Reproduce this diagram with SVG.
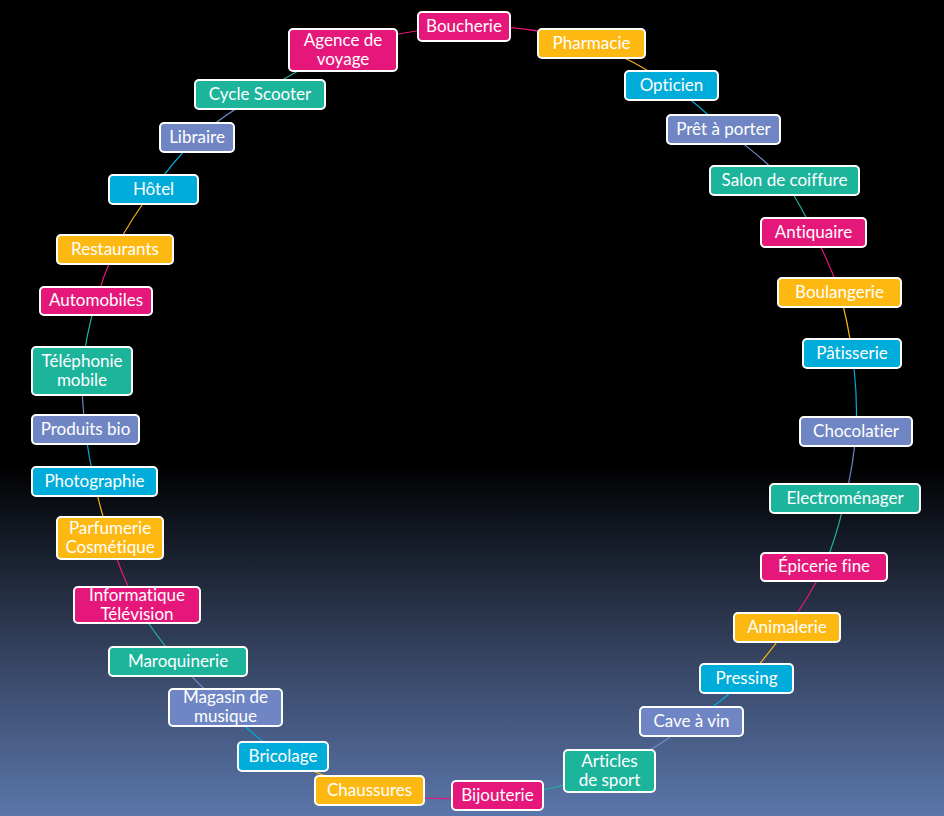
<svg xmlns="http://www.w3.org/2000/svg" width="944" height="816" viewBox="0 0 944 816">
<defs>
<linearGradient id="bg" x1="0" y1="0" x2="0" y2="816" gradientUnits="userSpaceOnUse">
<stop offset="0" stop-color="#000000"/>
<stop offset="0.57" stop-color="#000000"/>
<stop offset="0.8" stop-color="#34425f"/>
<stop offset="1" stop-color="#5b76aa"/>
</linearGradient>
<style>
.n rect{stroke:#ffffff;stroke-width:2;}
.M rect{fill:#e6177a;}
.O rect{fill:#fdb812;}
.C rect{fill:#00acda;}
.L rect{fill:#7086c4;}
.T rect{fill:#1db49c;}
.n text{font-family:Lato,"Noto Sans","Liberation Sans",sans-serif;font-size:17px;fill:#ffffff;text-anchor:middle;font-variant-ligatures:none;}
#connectors path{fill:none;stroke-width:1.2;}
.cM{stroke:#e6177a;}
.cO{stroke:#fdb812;}
.cC{stroke:#00acda;}
.cL{stroke:#7086c4;}
.cT{stroke:#1db49c;}
</style>
</defs>
<rect x="0" y="0" width="944" height="816" fill="url(#bg)"/>
<g id="connectors">
<path class="cM" d="M464 26.5 A385 385 0 0 1 591.5 43.5"/>
<path class="cO" d="M591.5 43.5 A385 385 0 0 1 671.5 85.5"/>
<path class="cC" d="M671.5 85.5 A385 385 0 0 1 723.5 129.5"/>
<path class="cL" d="M723.5 129.5 A385 385 0 0 1 784.5 180.5"/>
<path class="cT" d="M784.5 180.5 A385 385 0 0 1 813.5 232.5"/>
<path class="cM" d="M813.5 232.5 A385 385 0 0 1 839.5 292.5"/>
<path class="cO" d="M839.5 292.5 A385 385 0 0 1 852 353.5"/>
<path class="cC" d="M852 353.5 A385 385 0 0 1 856 431.5"/>
<path class="cL" d="M856 431.5 A385 385 0 0 1 845 498.5"/>
<path class="cT" d="M845 498.5 A385 385 0 0 1 824 567"/>
<path class="cM" d="M824 567 A385 385 0 0 1 787 627.5"/>
<path class="cO" d="M787 627.5 A385 385 0 0 1 746.5 678.5"/>
<path class="cC" d="M746.5 678.5 A385 385 0 0 1 691.5 721.5"/>
<path class="cL" d="M691.5 721.5 A385 385 0 0 1 609.5 771"/>
<path class="cT" d="M609.5 771 A385 385 0 0 1 497.5 795.5"/>
<path class="cM" d="M497.5 795.5 A385 385 0 0 1 369.5 790.5"/>
<path class="cO" d="M369.5 790.5 A385 385 0 0 1 283 756.5"/>
<path class="cC" d="M283 756.5 A385 385 0 0 1 225.5 707.5"/>
<path class="cL" d="M225.5 707.5 A385 385 0 0 1 178 661.5"/>
<path class="cT" d="M178 661.5 A385 385 0 0 1 137 605"/>
<path class="cM" d="M137 605 A385 385 0 0 1 110 538"/>
<path class="cO" d="M110 538 A385 385 0 0 1 94.5 481.5"/>
<path class="cC" d="M94.5 481.5 A385 385 0 0 1 85.5 429.5"/>
<path class="cL" d="M85.5 429.5 A385 385 0 0 1 82 371"/>
<path class="cT" d="M82 371 A385 385 0 0 1 96 301"/>
<path class="cM" d="M96 301 A385 385 0 0 1 115 249.5"/>
<path class="cO" d="M115 249.5 A385 385 0 0 1 153.5 189.5"/>
<path class="cC" d="M153.5 189.5 A385 385 0 0 1 197 137.5"/>
<path class="cL" d="M197 137.5 A385 385 0 0 1 260 94.5"/>
<path class="cT" d="M260 94.5 A385 385 0 0 1 343 50"/>
<path class="cM" d="M343 50 A385 385 0 0 1 464 26.5"/>
</g>
<g id="n1" class="n M"><rect x="418" y="12" width="92" height="29" rx="4"/><text x="464" y="31.5">Boucherie</text></g>
<g id="n2" class="n O"><rect x="538" y="29" width="107" height="29" rx="4"/><text x="591.5" y="48.5">Pharmacie</text></g>
<g id="n3" class="n C"><rect x="625" y="71" width="93" height="29" rx="4"/><text x="671.5" y="90.5">Opticien</text></g>
<g id="n4" class="n L"><rect x="667" y="115" width="113" height="29" rx="4"/><text x="723.5" y="134.5">Prêt à porter</text></g>
<g id="n5" class="n T"><rect x="710" y="166" width="149" height="29" rx="4"/><text x="784.5" y="185.5">Salon de coiffure</text></g>
<g id="n6" class="n M"><rect x="761" y="218" width="105" height="29" rx="4"/><text x="813.5" y="237.5">Antiquaire</text></g>
<g id="n7" class="n O"><rect x="778" y="278" width="123" height="29" rx="4"/><text x="839.5" y="297.5">Boulangerie</text></g>
<g id="n8" class="n C"><rect x="803" y="339" width="98" height="29" rx="4"/><text x="852" y="358.5">Pâtisserie</text></g>
<g id="n9" class="n L"><rect x="800" y="417" width="112" height="29" rx="4"/><text x="856" y="436.5">Chocolatier</text></g>
<g id="n10" class="n T"><rect x="770" y="484" width="150" height="29" rx="4"/><text x="845" y="503.5">Electroménager</text></g>
<g id="n11" class="n M"><rect x="761" y="553" width="126" height="28" rx="4"/><text x="824" y="572">Épicerie fine</text></g>
<g id="n12" class="n O"><rect x="734" y="613" width="106" height="29" rx="4"/><text x="787" y="632.5">Animalerie</text></g>
<g id="n13" class="n C"><rect x="700" y="664" width="93" height="29" rx="4"/><text x="746.5" y="683.5">Pressing</text></g>
<g id="n14" class="n L"><rect x="640" y="707" width="103" height="29" rx="4"/><text x="691.5" y="726.5">Cave à vin</text></g>
<g id="n15" class="n T"><rect x="564" y="750" width="91" height="42" rx="4"/><text x="609.5" y="766.5">Articles</text><text x="609.5" y="785.5">de sport</text></g>
<g id="n16" class="n M"><rect x="452" y="781" width="91" height="29" rx="4"/><text x="497.5" y="800.5">Bijouterie</text></g>
<g id="n17" class="n O"><rect x="315" y="776" width="109" height="29" rx="4"/><text x="369.5" y="795.5">Chaussures</text></g>
<g id="n18" class="n C"><rect x="238" y="742" width="90" height="29" rx="4"/><text x="283" y="761.5">Bricolage</text></g>
<g id="n19" class="n L"><rect x="169" y="689" width="113" height="37" rx="4"/><text x="225.5" y="703">Magasin de</text><text x="225.5" y="722">musique</text></g>
<g id="n20" class="n T"><rect x="109" y="647" width="138" height="29" rx="4"/><text x="178" y="666.5">Maroquinerie</text></g>
<g id="n21" class="n M"><rect x="74" y="587" width="126" height="36" rx="4"/><text x="137" y="600.5">Informatique</text><text x="137" y="619.5">Télévision</text></g>
<g id="n22" class="n O"><rect x="57" y="517" width="106" height="42" rx="4"/><text x="110" y="533.5">Parfumerie</text><text x="110" y="552.5">Cosmétique</text></g>
<g id="n23" class="n C"><rect x="32" y="467" width="125" height="29" rx="4"/><text x="94.5" y="486.5">Photographie</text></g>
<g id="n24" class="n L"><rect x="32" y="415" width="107" height="29" rx="4"/><text x="85.5" y="434.5">Produits bio</text></g>
<g id="n25" class="n T"><rect x="32" y="347" width="100" height="48" rx="4"/><text x="82" y="366.5">Téléphonie</text><text x="82" y="385.5">mobile</text></g>
<g id="n26" class="n M"><rect x="40" y="287" width="112" height="28" rx="4"/><text x="96" y="306">Automobiles</text></g>
<g id="n27" class="n O"><rect x="57" y="235" width="116" height="29" rx="4"/><text x="115" y="254.5">Restaurants</text></g>
<g id="n28" class="n C"><rect x="109" y="175" width="89" height="29" rx="4"/><text x="153.5" y="194.5">Hôtel</text></g>
<g id="n29" class="n L"><rect x="160" y="123" width="74" height="29" rx="4"/><text x="197" y="142.5">Libraire</text></g>
<g id="n30" class="n T"><rect x="195" y="80" width="130" height="29" rx="4"/><text x="260" y="99.5">Cycle Scooter</text></g>
<g id="n31" class="n M"><rect x="289" y="29" width="108" height="42" rx="4"/><text x="343" y="45.5">Agence de</text><text x="343" y="64.5">voyage</text></g>
</svg>
